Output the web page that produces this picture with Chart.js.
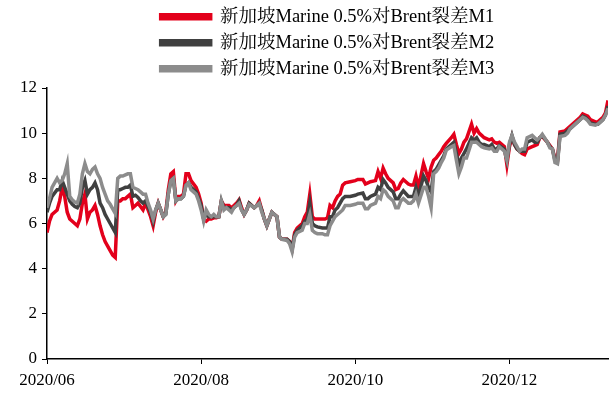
<!DOCTYPE html>
<html lang="zh">

<head>
    <meta charset="UTF-8">
    <title>新加坡Marine 0.5%对Brent裂差</title>
    <script src="https://cdn.jsdelivr.net/npm/chart.js"></script>
    <style>
        body { margin: 0; background: #fff; }
    </style>
</head>

<body>
    <canvas id="spreadChart" width="610" height="396"></canvas>

    <script>
        // days counted from 2020-06-01
        const days = [
            0, 1, 2, 4, 5, 6, 7, 8, 9, 10, 11, 12, 13, 14, 15, 16, 17, 18, 19, 20,
            21, 22, 23, 24, 25, 26, 27, 28, 29, 30, 31, 32, 33, 34, 35, 36, 37, 38, 39, 40,
            41, 42, 43, 44, 45, 46, 47, 48, 49, 50, 51, 52, 53, 54, 55, 56, 57, 59, 60, 61,
            62, 63, 64, 65, 66, 67, 68, 69, 70, 71, 72, 73, 74, 75, 76, 77, 78, 79, 80, 82,
            83, 84, 85, 86, 87, 88, 89, 90, 91, 92, 93, 95, 96, 97, 98, 99, 101, 102, 103, 104,
            105, 106, 107, 109, 110, 111, 112, 113, 114, 115, 116, 117, 118, 120, 122, 123, 125, 126, 127, 128,
            130, 131, 132, 133, 134, 135, 137, 138, 139, 140, 141, 143, 144, 145, 146, 147, 149, 150, 151, 152,
            153, 154, 155, 156, 157, 158, 160, 161, 162, 163, 164, 165, 166, 168, 169, 170, 171, 172, 173, 175,
            176, 177, 178, 179, 181, 182, 183, 184, 185, 186, 187, 188, 189, 190, 192, 193, 194, 195, 196, 198,
            199, 200, 201, 202, 203, 205, 206, 207, 208, 210, 211, 212, 213, 214, 215, 217, 218, 219, 220, 221,
            222
        ];

        const m1 = [
            5.6, 6.1, 6.4, 6.6, 7.0, 7.6, 7.2, 6.5, 6.2, 6.1, 6.0, 5.9, 6.2, 6.9, 7.3, 6.2, 6.5, 6.6, 6.8, 6.4,
            5.9, 5.5, 5.2, 5.0, 4.8, 4.6, 4.5, 7.0, 7.0, 7.1, 7.1, 7.2, 7.3, 6.7, 6.8, 6.9, 6.75, 6.6, 6.9, 6.6,
            6.3, 5.9, 6.5, 6.9, 6.6, 6.3, 6.5, 7.5, 8.2, 8.3, 7.0, 7.2, 7.2, 7.3, 8.2, 8.2, 7.9, 7.6, 7.3, 6.9,
            6.2, 6.1, 6.2, 6.2, 6.25, 6.25, 6.3, 7.0, 6.8, 6.8, 6.8, 6.7, 6.8, 6.9, 7.05, 6.7, 6.4, 6.6, 6.9, 6.7,
            6.8, 7.0, 6.6, 6.2, 5.9, 6.2, 6.5, 6.4, 6.3, 5.4, 5.3, 5.3, 5.2, 4.9, 5.6, 5.8, 6.0, 6.3, 6.5, 7.3,
            6.3, 6.2, 6.2, 6.2, 6.2, 6.25, 6.8, 6.7, 7.0, 7.2, 7.3, 7.7, 7.8, 7.85, 7.9, 7.95, 7.95, 7.75, 7.8, 7.85,
            7.9, 8.3, 8.0, 8.45, 8.2, 8.0, 7.8, 7.5, 7.55, 7.8, 7.95, 7.75, 7.7, 7.7, 8.1, 7.6, 8.65, 8.3, 8.0, 8.5,
            8.8, 8.9, 9.05, 9.2, 9.4, 9.55, 9.8, 9.95, 9.5, 9.1, 9.3, 9.6, 9.75, 10.4, 10.0, 10.2, 10.0, 9.9, 9.8, 9.7,
            9.75, 9.6, 9.55, 9.6, 9.4, 8.6, 9.4, 9.85, 9.5, 9.3, 9.2, 9.1, 9.05, 9.3, 9.4, 9.45, 9.5, 9.8, 9.85, 9.6,
            9.45, 9.3, 8.9, 8.8, 10.05, 10.1, 10.2, 10.3, 10.4, 10.6, 10.7, 10.85, 10.8, 10.75, 10.6, 10.5, 10.5, 10.6, 10.7, 10.9,
            11.45
        ];

        const m2 = [
            6.5, 6.9, 7.2, 7.5, 7.5, 7.9, 7.6, 7.3, 7.0, 6.85, 6.75, 6.7, 6.9, 7.6, 7.9, 7.3, 7.5, 7.6, 7.8, 7.5,
            6.9, 6.7, 6.4, 6.2, 6.0, 5.8, 5.6, 7.5, 7.5, 7.55, 7.6, 7.6, 7.7, 7.2, 7.25, 7.15, 7.0, 6.9, 7.0, 6.75,
            6.5, 6.1, 6.6, 6.9, 6.6, 6.3, 6.4, 7.3, 7.9, 8.0, 7.0, 7.1, 7.1, 7.2, 7.7, 7.8, 7.6, 7.4, 7.1, 6.8,
            6.2, 6.4, 6.3, 6.3, 6.3, 6.3, 6.3, 7.0, 6.7, 6.7, 6.7, 6.6, 6.7, 6.8, 7.0, 6.6, 6.4, 6.6, 6.9, 6.7,
            6.8, 6.9, 6.6, 6.2, 5.9, 6.2, 6.5, 6.4, 6.3, 5.4, 5.3, 5.3, 5.2, 4.85, 5.5, 5.7, 5.9, 6.1, 6.2, 6.9,
            6.0, 5.9, 5.85, 5.8, 5.8, 5.8, 6.3, 6.3, 6.6, 6.7, 6.9, 7.1, 7.2, 7.2, 7.25, 7.3, 7.35, 7.1, 7.1, 7.2,
            7.3, 7.6, 7.5, 7.95, 7.8, 7.6, 7.4, 7.1, 7.1, 7.3, 7.45, 7.2, 7.2, 7.2, 7.6, 7.2, 8.1, 7.9, 7.6, 7.4,
            8.3, 8.4, 8.6, 8.8, 9.0, 9.3, 9.5, 9.6, 9.1, 8.6, 8.9, 9.1, 9.3, 9.8, 9.7, 9.8, 9.6, 9.5, 9.5, 9.4,
            9.5, 9.3, 9.3, 9.45, 9.3, 8.8, 9.5, 9.9, 9.5, 9.3, 9.2, 9.2, 9.2, 9.6, 9.7, 9.6, 9.6, 9.8, 9.9, 9.6,
            9.4, 9.3, 8.8, 8.7, 9.95, 10.0, 10.1, 10.2, 10.3, 10.5, 10.6, 10.75, 10.7, 10.6, 10.45, 10.4, 10.4, 10.5, 10.6, 10.8,
            11.2
        ];

        const m3 = [
            6.7, 7.1, 7.6, 8.0, 7.8, 7.9, 8.2, 8.65, 7.2, 7.05, 6.95, 6.9, 7.3, 8.2, 8.65, 8.3, 8.2, 8.4, 8.5, 8.2,
            8.0, 7.6, 7.3, 7.0, 6.85, 6.65, 6.45, 8.0, 8.1, 8.1, 8.15, 8.2, 8.2, 7.6, 7.55, 7.5, 7.4, 7.3, 7.3, 6.9,
            6.6, 6.2, 6.6, 6.9, 6.6, 6.3, 6.4, 7.3, 7.9, 8.0, 7.0, 7.1, 7.1, 7.2, 7.7, 7.8, 7.5, 7.3, 7.0, 6.6,
            6.1, 6.6, 6.4, 6.3, 6.4, 6.3, 6.3, 7.0, 6.6, 6.7, 6.6, 6.5, 6.7, 6.8, 6.9, 6.6, 6.4, 6.6, 6.85, 6.7,
            6.8, 6.9, 6.5, 6.2, 5.9, 6.2, 6.5, 6.4, 6.3, 5.4, 5.3, 5.25, 5.1, 4.75, 5.4, 5.6, 5.7, 6.0, 6.0, 6.4,
            5.7, 5.6, 5.55, 5.55, 5.5, 5.5, 5.9, 6.1, 6.3, 6.4, 6.5, 6.6, 6.8, 6.8, 6.85, 6.9, 6.9, 6.65, 6.65, 6.8,
            6.9, 7.2, 7.1, 7.5, 7.4, 7.2, 7.0, 6.7, 6.7, 7.0, 7.1, 6.9, 6.9, 7.0, 7.3, 6.9, 7.6, 7.6, 7.2, 6.7,
            8.2, 8.3, 8.45, 8.7, 8.9, 9.25, 9.4, 9.45, 8.8, 8.2, 8.5, 8.9, 8.9, 9.6, 9.6, 9.6, 9.5, 9.4, 9.35, 9.3,
            9.35, 9.2, 9.2, 9.4, 9.2, 8.8, 9.6, 9.9, 9.6, 9.4, 9.2, 9.3, 9.3, 9.8, 9.9, 9.8, 9.7, 9.8, 9.95, 9.6,
            9.35, 9.3, 8.7, 8.65, 9.85, 9.9, 10.0, 10.2, 10.3, 10.5, 10.6, 10.7, 10.65, 10.55, 10.4, 10.35, 10.4, 10.5, 10.6, 10.8,
            11.1
        ];

        const seriesNames = [
            '新加坡Marine 0.5%对Brent裂差M1',
            '新加坡Marine 0.5%对Brent裂差M2',
            '新加坡Marine 0.5%对Brent裂差M3'
        ];

        // x tick positions (day offsets) and their labels
        const monthTicks = [0, 61, 122, 183];
        const monthLabels = ['2020/06', '2020/08', '2020/10', '2020/12'];

        const toPoints = (vals) => vals.map((v, i) => ({ x: days[i], y: v }));
        const FONT = "'Liberation Serif', 'Times New Roman', 'Noto Serif CJK SC', 'Noto Sans CJK SC', serif";

        // M3 first so it paints on top; legend is reversed back to M1..M3
        const ctx = document.getElementById('spreadChart').getContext('2d');
        const chart = new Chart(ctx, {
            type: 'line',
            data: {
                datasets: [{
                    label: seriesNames[2],
                    data: toPoints(m3),
                    borderColor: '#8c8c8c',
                    backgroundColor: '#8c8c8c'
                },
                {
                    label: seriesNames[1],
                    data: toPoints(m2),
                    borderColor: '#404040',
                    backgroundColor: '#404040'
                },
                {
                    label: seriesNames[0],
                    data: toPoints(m1),
                    borderColor: '#e3001b',
                    backgroundColor: '#e3001b'
                }
                ]
            },
            options: {
                responsive: false,
                animation: false,
                layout: {
                    padding: { top: 0, right: 2, left: 0, bottom: 0 }
                },
                elements: {
                    line: { borderWidth: 3.5, tension: 0 },
                    point: { radius: 0 }
                },
                plugins: {
                    tooltip: { enabled: false },
                    legend: {
                        position: 'top',
                        fullSize: false,
                        reverse: true,
                        labels: {
                            boxWidth: 50,
                            boxHeight: 4,
                            padding: 7.5,
                            color: '#000',
                            font: { family: FONT, size: 18.5 }
                        }
                    }
                },
                scales: {
                    x: {
                        type: 'linear',
                        min: 0,
                        max: 222,
                        afterBuildTicks: (scale) => {
                            scale.ticks = monthTicks.map(v => ({ value: v }));
                        },
                        afterFit: (scale) => { scale.height = 37; },
                        ticks: {
                            color: '#000',
                            maxRotation: 0,
                            padding: 6,
                            font: { family: FONT, size: 17 },
                            callback: (v) => monthLabels[monthTicks.indexOf(v)]
                        },
                        grid: {
                            drawOnChartArea: false,
                            drawTicks: true,
                            tickLength: 5,
                            color: '#000'
                        },
                        border: { color: '#000', width: 1.5 }
                    },
                    y: {
                        min: 0,
                        max: 12,
                        afterFit: (scale) => { scale.width = 47; },
                        ticks: {
                            stepSize: 2,
                            color: '#000',
                            padding: 5,
                            font: { family: FONT, size: 17 }
                        },
                        grid: {
                            drawOnChartArea: false,
                            drawTicks: true,
                            tickLength: 5,
                            color: '#000'
                        },
                        border: { color: '#000', width: 1.5 }
                    }
                }
            }
        });
    </script>
</body>

</html>
